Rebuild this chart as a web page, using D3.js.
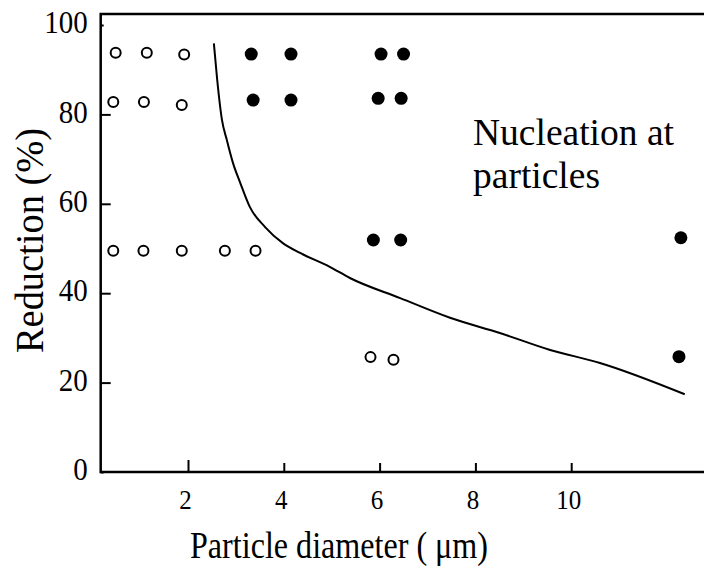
<!DOCTYPE html>
<html>
<head>
<meta charset="utf-8">
<title>Reduction vs particle diameter</title>
<style>
  body { margin: 0; background: #fff; }
  text { font-family: "Liberation Serif", "Times New Roman", serif; fill: #000; }
</style>
</head>
<body>
<div class="container"></div>
<script src="https://d3js.org/d3.v7.min.js"></script>
<script>
var wd = 704, ht = 566

// open circles (no nucleation)
var openX = [0.49, 1.14, 1.92, 0.44, 1.08, 1.87, 0.44, 1.07, 1.87, 2.77, 3.41, 5.81, 6.29]
var openY = [93.8, 93.8, 93.4, 82.8, 82.8, 82.1, 49.5, 49.5, 49.5, 49.5, 49.5, 25.7, 25.1]
// filled circles (nucleation at particles)
var fillX = [3.32, 4.15, 6.03, 6.50, 3.36, 4.15, 5.97, 6.45, 5.87, 6.44, 12.29, 12.25]
var fillY = [93.5, 93.5, 93.5, 93.5, 83.2, 83.2, 83.6, 83.6, 51.9, 51.9, 52.4, 25.8]
// boundary curve
var curveX = [2.54, 2.61, 2.71, 2.81, 2.94, 3.09, 3.29, 3.61, 3.98, 4.34, 4.96, 5.38, 6.43, 7.47, 8.51, 9.56, 10.60, 12.37]
var curveY = [95.9, 87.7, 78.7, 74.3, 69.1, 64.7, 59.3, 54.8, 51.2, 49.0, 45.9, 43.4, 38.9, 34.5, 31.1, 27.3, 24.4, 17.4]

var xTicks = [2, 4, 6, 8, 10]
var yTicks = [0, 20, 40, 60, 80, 100]

var serif = "'Liberation Serif', 'Times New Roman', serif"

var svg = d3.select(".container").append("svg")
  .attr("width", wd)
  .attr("height", ht)

var x = d3.scaleLinear().domain([0, 12]).range([92.2, 667])
var y = d3.scaleLinear().domain([0, 100]).range([472, 25])

var axLeft = 100.7, axTop = 14, axBottom = 472

// x axis ticks (pointing up into the plot)
var gx = svg.append("g")
  .attr("transform", "translate(0," + axBottom + ")")
  .call(d3.axisBottom(x).tickValues(xTicks).tickSize(-9).tickFormat(d3.format("d")))
gx.attr("font-family", null).attr("font-size", null)
gx.select(".domain").remove()
gx.selectAll("line").attr("stroke", "#000").attr("stroke-width", 2)
gx.selectAll("line").filter(function(d){ return d == 2 }).attr("y2", -12)
gx.selectAll("text")
  .attr("y", 0).attr("dy", null)
  .attr("transform", "translate(-3,37) scale(1,1.1)")
  .style("font-size", "25px")
  .style("font-family", serif)

// y axis ticks (pointing right into the plot)
var gy = svg.append("g")
  .attr("transform", "translate(" + axLeft + ",0)")
  .call(d3.axisLeft(y).tickValues(yTicks).tickSize(-10))
gy.attr("font-family", null).attr("font-size", null)
gy.select(".domain").remove()
gy.selectAll("line").attr("stroke", "#000").attr("stroke-width", 2)
gy.selectAll("line").filter(function(d){ return d == 100 || d == 0 }).attr("x2", 3)
gy.selectAll("text")
  .attr("x", 0).attr("dy", null)
  .attr("transform", "translate(-13,0) scale(1,1.1) translate(0,7)")
  .style("font-size", "29px")
  .style("font-family", serif)

// frame: top, left, bottom (open on the right)
svg.append("path")
  .attr("d", "M" + wd + "," + axTop + "H" + axLeft + "V" + axBottom + "H" + wd)
  .attr("fill", "none")
  .attr("stroke", "#000")
  .attr("stroke-width", 2.5)

// curve
var line = d3.line()
  .x(function(d){ return x(d[0]) })
  .y(function(d){ return y(d[1]) })
  .curve(d3.curveMonotoneX)
svg.append("path")
  .datum(d3.zip(curveX, curveY))
  .attr("d", line)
  .attr("fill", "none")
  .attr("stroke", "#000")
  .attr("stroke-width", 2)

// points
svg.selectAll(".open")
  .data(d3.zip(openX, openY))
  .enter().append("circle")
  .attr("class", "open")
  .attr("cx", function(d){ return x(d[0]) })
  .attr("cy", function(d){ return y(d[1]) })
  .attr("r", 5)
  .attr("fill", "#fff")
  .attr("stroke", "#000")
  .attr("stroke-width", 2)

svg.selectAll(".filled")
  .data(d3.zip(fillX, fillY))
  .enter().append("circle")
  .attr("class", "filled")
  .attr("cx", function(d){ return x(d[0]) })
  .attr("cy", function(d){ return y(d[1]) })
  .attr("r", 6.5)
  .attr("fill", "#000")

// annotation
svg.append("text").attr("x", 473).attr("y", 145)
  .style("font-size", "37.5px").style("font-family", serif).text("Nucleation at")
svg.append("text").attr("x", 473).attr("y", 188)
  .style("font-size", "37.5px").style("font-family", serif).text("particles")

// axis titles
svg.append("text")
  .attr("x", 190).attr("y", 558)
  .attr("textLength", 298).attr("lengthAdjust", "spacingAndGlyphs")
  .style("font-size", "38px").style("font-family", serif)
  .text("Particle diameter ( μm)")

svg.append("text")
  .attr("transform", "translate(43,353) rotate(-90)")
  .attr("textLength", 225).attr("lengthAdjust", "spacingAndGlyphs")
  .style("font-size", "41px").style("font-family", serif)
  .text("Reduction (%)")
</script>
</body>
</html>
